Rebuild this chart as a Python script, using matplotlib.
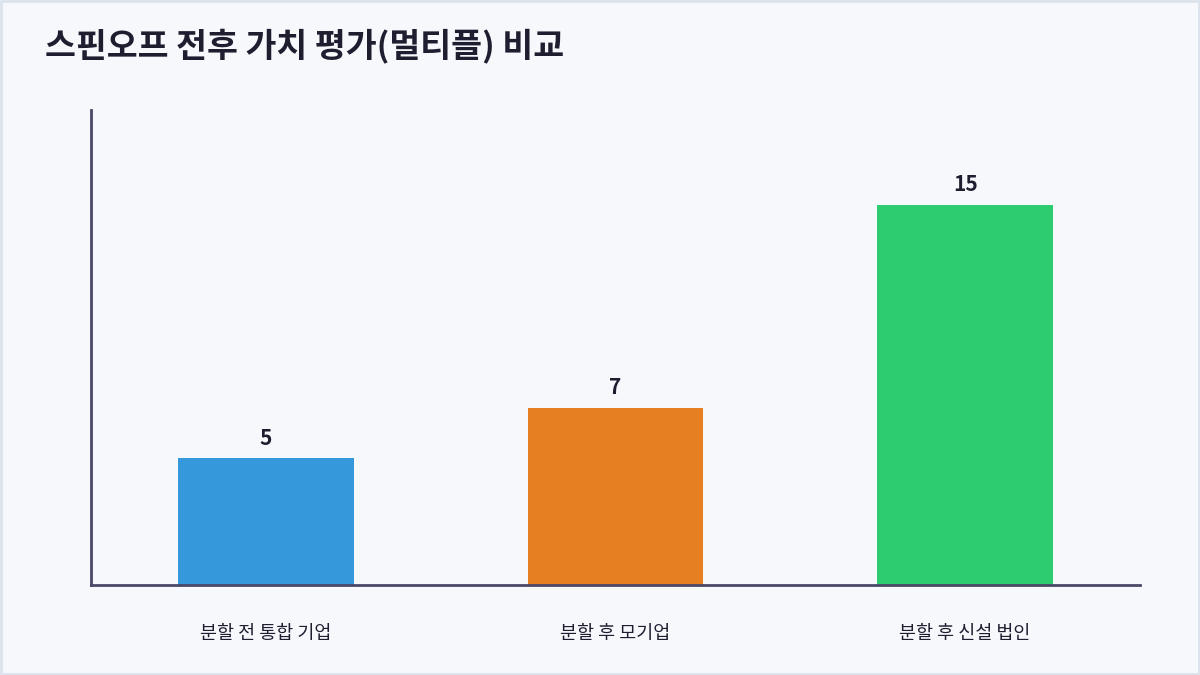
import matplotlib
matplotlib.use("Agg")
import matplotlib.pyplot as plt
from matplotlib.patches import Rectangle

plt.rcParams['font.family'] = ['Noto Sans CJK KR', 'DejaVu Sans']

title = "스핀오프 전후 가치 평가(멀티플) 비교"
categories = ["분할 전 통합 기업", "분할 후 모기업", "분할 후 신설 법인"]
values = [5, 7, 15]
colors = ["#3498db", "#e67e22", "#2ecc71"]

bg = "#f7f8fc"
text_color = "#1e1e30"
spine_color = "#4a4868"

fig = plt.figure(figsize=(12, 6.75), dpi=100, facecolor=bg)
ax = fig.add_axes([91/1200, 1 - 585/675, (1140-91)/1200, (585-110)/675])
ax.set_facecolor(bg)

x = list(range(len(categories)))
bars = ax.bar(x, values, width=0.503, color=colors, zorder=2)
ax.set_xlim(-0.5, len(categories) - 0.5)
ax.set_ylim(0, max(values) * 1.25)

for xi, v in zip(x, values):
    ax.annotate(str(v), (xi, v), xytext=(0, 7), textcoords="offset points",
                ha="center", va="bottom", fontsize=15, fontweight="bold",
                color=text_color)

ax.set_xticks(x)
ax.set_xticklabels(categories, fontsize=13.3, color=text_color)
ax.tick_params(axis="x", length=0, pad=28.5)
ax.set_yticks([])
for s in ["top", "right"]:
    ax.spines[s].set_visible(False)
for s in ["left", "bottom"]:
    ax.spines[s].set_color(spine_color)
    ax.spines[s].set_linewidth(2)

fig.text(45/1200, 1 - 46/675, title, fontsize=24.2, fontweight="bold",
         color=text_color, ha="left", va="center")

fig.patches.append(Rectangle((0.001, 0.0015), 0.998, 0.997, transform=fig.transFigure,
                             fill=False, edgecolor="#dde3ec", linewidth=2))

fig.savefig("out.png", dpi=100, facecolor=bg)
